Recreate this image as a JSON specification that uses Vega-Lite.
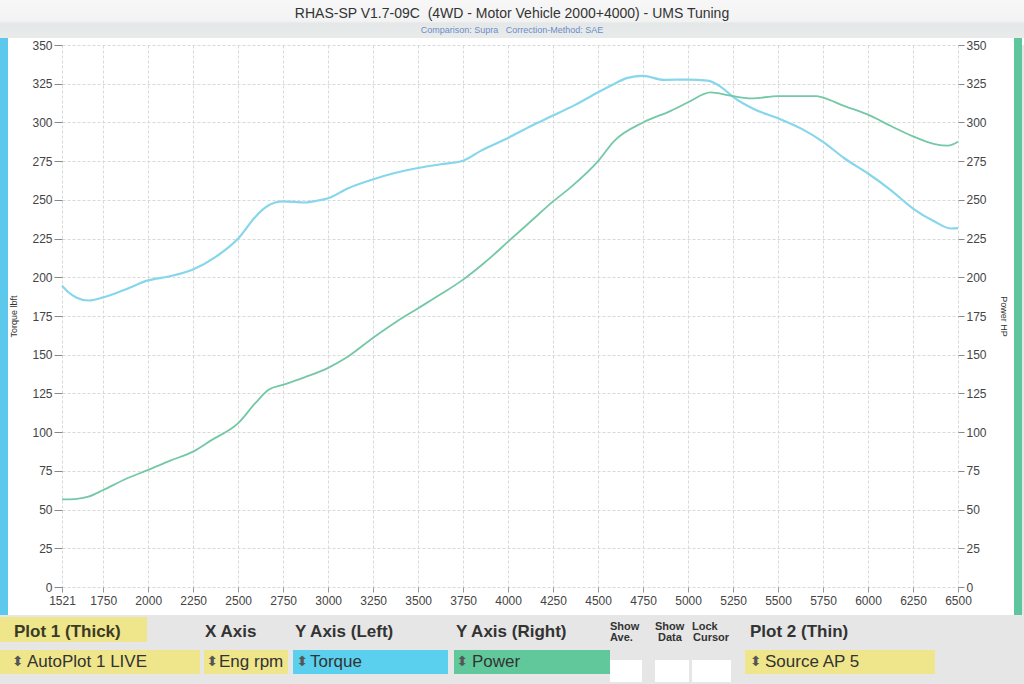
{
  "$schema": "https://vega.github.io/schema/vega-lite/v6.json",
  "background": "white",
  "padding": 0,
  "config": {"view": {"stroke": null}, "font": "Liberation Sans", "text": {"font": "Liberation Sans"}},
  "spacing": 0,
  "bounds": "full",
  "datasets": {
    "torque": [{"rpm":1521,"torque":194.5},{"rpm":1560,"torque":190},{"rpm":1600,"torque":187},{"rpm":1668,"torque":185},{"rpm":1750,"torque":187},{"rpm":1870,"torque":192},{"rpm":2000,"torque":198},{"rpm":2113,"torque":200.5},{"rpm":2249,"torque":205},{"rpm":2373,"torque":213},{"rpm":2500,"torque":225},{"rpm":2595,"torque":239},{"rpm":2650,"torque":245},{"rpm":2706,"torque":248.3},{"rpm":2750,"torque":249},{"rpm":2872,"torque":248.3},{"rpm":2944,"torque":249.6},{"rpm":3000,"torque":251},{"rpm":3111,"torque":257.5},{"rpm":3243,"torque":263},{"rpm":3375,"torque":267.5},{"rpm":3500,"torque":270.6},{"rpm":3625,"torque":273},{"rpm":3750,"torque":275.3},{"rpm":3850,"torque":281.8},{"rpm":4000,"torque":290},{"rpm":4125,"torque":297.5},{"rpm":4250,"torque":304.4},{"rpm":4375,"torque":311.5},{"rpm":4500,"torque":319.5},{"rpm":4600,"torque":325.5},{"rpm":4663,"torque":328.8},{"rpm":4750,"torque":330.1},{"rpm":4865,"torque":327.5},{"rpm":5000,"torque":327.7},{"rpm":5108,"torque":327},{"rpm":5182,"torque":323},{"rpm":5250,"torque":316.5},{"rpm":5368,"torque":308.5},{"rpm":5500,"torque":302.7},{"rpm":5629,"torque":296},{"rpm":5750,"torque":287.5},{"rpm":5870,"torque":276.7},{"rpm":6000,"torque":267},{"rpm":6130,"torque":256},{"rpm":6250,"torque":244.4},{"rpm":6370,"torque":236},{"rpm":6462,"torque":231.5},{"rpm":6500,"torque":231.7}],
    "power": [{"rpm":1521,"power":56.6},{"rpm":1594,"power":56.8},{"rpm":1668,"power":58.3},{"rpm":1750,"power":62.6},{"rpm":1872,"power":69.6},{"rpm":2000,"power":75.6},{"rpm":2122,"power":81.6},{"rpm":2249,"power":87.4},{"rpm":2354,"power":95},{"rpm":2500,"power":105.8},{"rpm":2595,"power":118.7},{"rpm":2669,"power":127.3},{"rpm":2748,"power":130.5},{"rpm":2872,"power":135.5},{"rpm":3000,"power":141.5},{"rpm":3100,"power":148},{"rpm":3250,"power":161},{"rpm":3375,"power":171},{"rpm":3500,"power":180},{"rpm":3625,"power":189},{"rpm":3750,"power":198.5},{"rpm":3875,"power":210},{"rpm":4000,"power":223},{"rpm":4125,"power":236},{"rpm":4250,"power":249},{"rpm":4352,"power":258.5},{"rpm":4500,"power":275},{"rpm":4589,"power":288},{"rpm":4750,"power":300},{"rpm":4904,"power":307.5},{"rpm":5000,"power":313},{"rpm":5126,"power":319.4},{"rpm":5218,"power":317.7},{"rpm":5352,"power":315.5},{"rpm":5500,"power":317},{"rpm":5713,"power":317},{"rpm":5750,"power":316},{"rpm":5870,"power":310.5},{"rpm":6000,"power":305},{"rpm":6130,"power":297.5},{"rpm":6250,"power":291},{"rpm":6370,"power":286},{"rpm":6444,"power":285},{"rpm":6500,"power":287.5}]
  },
  "vconcat": [
    {
      "width": 1024, "height": 38,
      "view": {"fill": {"gradient": "linear", "x1": 0, "y1": 0, "x2": 0, "y2": 1, "stops": [{"offset": 0, "color": "#f7f7f7"}, {"offset": 0.55, "color": "#f3f3f3"}, {"offset": 0.62, "color": "#e5e8e8"}, {"offset": 1, "color": "#e9ebeb"}]}},
      "data": {"values": [{"title": "RHAS-SP V1.7-09C \u00a0(4WD - Motor Vehicle 2000+4000) - UMS Tuning", "subtitle": "Comparison: Supra \u00a0 Correction-Method: SAE"}]},
      "layer": [
        {"mark": {"type": "text", "fontSize": 14, "color": "#333333", "dy": -5}, "encoding": {"text": {"field": "title"}}},
        {"mark": {"type": "text", "fontSize": 9, "color": "#6a8cc8", "dy": 11}, "encoding": {"text": {"field": "subtitle"}}}
      ]
    },
    {
      "spacing": 0,
      "bounds": "flush",
      "hconcat": [
        {"width": 8, "height": 570, "data": {"values": [{"t": ""}]}, "mark": {"type": "rect", "color": "#5cc9ec", "yOffset": -7}, "encoding": {}},
        {"width": 54, "height": 570, "data": {"values": [{"t": ""}]}, "mark": "text", "encoding": {"text": {"field": "t"}}},
        {
          "width": 896, "height": 542,
          "view": {"fill": "white"},
          "layer": [
            {
              "data": {"name": "torque"},
              "mark": {"type": "line", "color": "#86d6ec", "strokeWidth": 2.2, "interpolate": "monotone"},
              "encoding": {
                "x": {"field": "rpm", "type": "quantitative", "scale": {"domain": [1521, 6500], "nice": false, "zero": false},
                  "axis": {"values": [1521,1750,2000,2250,2500,2750,3000,3250,3500,3750,4000,4250,4500,4750,5000,5250,5500,5750,6000,6250,6500], "format": "d", "title": null, "domain": false, "tickSize": 5, "tickColor": "#999999", "labelPadding": 3, "labelFontSize": 12, "labelColor": "#444444", "labelFlush": false, "labelOverlap": false, "grid": true, "gridColor": "#d9d9d9", "gridDash": [3, 2]}},
                "y": {"field": "torque", "type": "quantitative", "scale": {"domain": [0, 350], "nice": false},
                  "axis": {"orient": "left", "values": [0,25,50,75,100,125,150,175,200,225,250,275,300,325,350], "title": "Torque lbft", "titleFontSize": 9, "titleFontWeight": "normal", "titleColor": "#333333", "titleX": -44, "titleY": 271, "domain": false, "tickSize": 8, "tickColor": "#888888", "labelPadding": 2, "labelFontSize": 12, "labelColor": "#444444", "labelOverlap": false, "grid": true, "gridColor": "#d9d9d9", "gridDash": [3, 2]}}
              }
            },
            {
              "data": {"name": "power"},
              "mark": {"type": "line", "color": "#74c8a6", "strokeWidth": 1.8, "interpolate": "monotone"},
              "encoding": {
                "x": {"field": "rpm", "type": "quantitative"},
                "y": {"field": "power", "type": "quantitative", "scale": {"domain": [0, 350], "nice": false},
                  "axis": {"orient": "right", "values": [0,25,50,75,100,125,150,175,200,225,250,275,300,325,350], "title": "Power HP", "titleFontSize": 9, "titleFontWeight": "normal", "titleColor": "#333333", "titleX": 40, "titleY": 271, "domain": false, "tickSize": 6, "tickColor": "#888888", "labelPadding": 2, "labelFontSize": 12, "labelColor": "#444444", "labelOverlap": false, "grid": false}}
              }
            }
          ],
          "resolve": {"scale": {"y": "independent"}}
        },
        {"width": 56, "height": 570, "data": {"values": [{"t": ""}]}, "mark": "text", "encoding": {"text": {"field": "t"}}},
        {"width": 8, "height": 570, "data": {"values": [{"t": ""}]}, "mark": {"type": "rect", "color": "#5fc59c", "yOffset": -7}, "encoding": {}},
        {"width": 2, "height": 570, "view": {"fill": "#e5e6e5"}, "data": {"values": [{"t": ""}]}, "mark": "text", "encoding": {"text": {"field": "t"}}}
      ]
    },
    {
      "spacing": 0,
      "bounds": "flush",
      "hconcat": [
        {
          "width": 204, "height": 69, "view": {"fill": "#e5e6e5"},
          "data": {"values": [{"heading": "Plot 1 (Thick)", "setting": "AutoPlot 1 LIVE", "arrows": "⬍"}]},
          "layer": [
            {"mark": {"type": "rect", "color": "#efe58b", "x2Offset": 12, "xOffset": -57, "yOffset": 2}, "encoding": {}},
            {"mark": {"type": "rect", "color": "#e5e6e5", "x2Offset": 12, "xOffset": -57, "yOffset": 27}, "encoding": {}},
            {"mark": {"type": "rect", "color": "#efe58b", "x2Offset": 26, "xOffset": -4, "yOffset": 35}, "encoding": {}},
            {"mark": {"type": "rect", "color": "#e5e6e5", "yOffset": 59}, "encoding": {}},
            {"mark": {"type": "text", "align": "left", "fontSize": 17, "fontWeight": "bold", "color": "#3a3a26", "dx": -88, "dy": -17.5}, "encoding": {"text": {"field": "heading"}}},
            {"mark": {"type": "text", "align": "left", "fontSize": 14, "font": "DejaVu Sans", "color": "#555555", "dx": -90, "dy": 12.5}, "encoding": {"text": {"field": "arrows"}}},
            {"mark": {"type": "text", "align": "left", "fontSize": 17, "color": "#333333", "dx": -75, "dy": 12.5}, "encoding": {"text": {"field": "setting"}}}
          ]
        },
        {
          "width": 89, "height": 69, "view": {"fill": "#e5e6e5"},
          "data": {"values": [{"heading": "X Axis", "setting": "Eng rpm", "arrows": "⬍"}]},
          "layer": [
            {"mark": {"type": "rect", "color": "#efe58b", "x2Offset": 14, "xOffset": -5, "yOffset": 35}, "encoding": {}},
            {"mark": {"type": "rect", "color": "#e5e6e5", "yOffset": 59}, "encoding": {}},
            {"mark": {"type": "text", "align": "left", "fontSize": 17, "fontWeight": "bold", "color": "#333333", "dx": -43.5, "dy": -17.5}, "encoding": {"text": {"field": "heading"}}},
            {"mark": {"type": "text", "align": "left", "fontSize": 14, "font": "DejaVu Sans", "color": "#555555", "dx": -42, "dy": 12.5}, "encoding": {"text": {"field": "arrows"}}},
            {"mark": {"type": "text", "align": "left", "fontSize": 17, "color": "#333333", "dx": -29.5, "dy": 12.5, "limit": 69, "ellipsis": ""}, "encoding": {"text": {"field": "setting"}}}
          ]
        },
        {
          "width": 161, "height": 69, "view": {"fill": "#e5e6e5"},
          "data": {"values": [{"heading": "Y Axis (Left)", "setting": "Torque", "arrows": "⬍"}]},
          "layer": [
            {"mark": {"type": "rect", "color": "#5bcfee", "x2Offset": 15, "xOffset": -6, "yOffset": 35}, "encoding": {}},
            {"mark": {"type": "rect", "color": "#e5e6e5", "yOffset": 59}, "encoding": {}},
            {"mark": {"type": "text", "align": "left", "fontSize": 17, "fontWeight": "bold", "color": "#333333", "dx": -78.5, "dy": -17.5}, "encoding": {"text": {"field": "heading"}}},
            {"mark": {"type": "text", "align": "left", "fontSize": 14, "font": "DejaVu Sans", "color": "#555555", "dx": -77, "dy": 12.5}, "encoding": {"text": {"field": "arrows"}}},
            {"mark": {"type": "text", "align": "left", "fontSize": 17, "color": "#333333", "dx": -63.5, "dy": 12.5}, "encoding": {"text": {"field": "setting"}}}
          ]
        },
        {
          "width": 156, "height": 69, "view": {"fill": "#e5e6e5"},
          "data": {"values": [{"heading": "Y Axis (Right)", "setting": "Power", "arrows": "⬍"}]},
          "layer": [
            {"mark": {"type": "rect", "color": "#60c89b", "x2Offset": 16, "xOffset": 0, "yOffset": 35}, "encoding": {}},
            {"mark": {"type": "rect", "color": "#e5e6e5", "yOffset": 59}, "encoding": {}},
            {"mark": {"type": "text", "align": "left", "fontSize": 17, "fontWeight": "bold", "color": "#333333", "dx": -76, "dy": -17.5}, "encoding": {"text": {"field": "heading"}}},
            {"mark": {"type": "text", "align": "left", "fontSize": 14, "font": "DejaVu Sans", "color": "#555555", "dx": -75.5, "dy": 12.5}, "encoding": {"text": {"field": "arrows"}}},
            {"mark": {"type": "text", "align": "left", "fontSize": 17, "color": "#333333", "dx": -60, "dy": 12.5}, "encoding": {"text": {"field": "setting"}}}
          ]
        },
        {
          "width": 45, "height": 69, "view": {"fill": "#e5e6e5"},
          "data": {"values": [{"line1": "Show", "line2": "Ave."}]},
          "layer": [
            {"mark": {"type": "rect", "color": "white", "x2Offset": 11, "xOffset": -13, "yOffset": 45}, "encoding": {}},
            {"mark": {"type": "rect", "color": "#e5e6e5", "yOffset": 67}, "encoding": {}},
            {"mark": {"type": "text", "align": "left", "fontSize": 11, "fontWeight": "bold", "color": "#333333", "dx": -22.5, "dy": -23}, "encoding": {"text": {"field": "line1"}}},
            {"mark": {"type": "text", "align": "left", "fontSize": 11, "fontWeight": "bold", "color": "#333333", "dx": -22.5, "dy": -11.5}, "encoding": {"text": {"field": "line2"}}}
          ]
        },
        {
          "width": 37, "height": 69, "view": {"fill": "#e5e6e5"},
          "data": {"values": [{"line1": "Show", "line2": "Data"}]},
          "layer": [
            {"mark": {"type": "rect", "color": "white", "x2Offset": 13, "xOffset": -3, "yOffset": 45}, "encoding": {}},
            {"mark": {"type": "rect", "color": "#e5e6e5", "yOffset": 67}, "encoding": {}},
            {"mark": {"type": "text", "align": "left", "fontSize": 11, "fontWeight": "bold", "color": "#333333", "dx": -18.5, "dy": -23}, "encoding": {"text": {"field": "line1"}}},
            {"mark": {"type": "text", "align": "left", "fontSize": 11, "fontWeight": "bold", "color": "#333333", "dx": -15.5, "dy": -11.5}, "encoding": {"text": {"field": "line2"}}}
          ]
        },
        {
          "width": 53, "height": 69, "view": {"fill": "#e5e6e5"},
          "data": {"values": [{"line1": "Lock", "line2": "Cursor"}]},
          "layer": [
            {"mark": {"type": "rect", "color": "white", "x2Offset": 18, "xOffset": -14, "yOffset": 45}, "encoding": {}},
            {"mark": {"type": "rect", "color": "#e5e6e5", "yOffset": 67}, "encoding": {}},
            {"mark": {"type": "text", "align": "left", "fontSize": 11, "fontWeight": "bold", "color": "#333333", "dx": -26.5, "dy": -23}, "encoding": {"text": {"field": "line1"}}},
            {"mark": {"type": "text", "align": "left", "fontSize": 11, "fontWeight": "bold", "color": "#333333", "dx": -25.5, "dy": -11.5}, "encoding": {"text": {"field": "line2"}}}
          ]
        },
        {
          "width": 279, "height": 69, "view": {"fill": "#e5e6e5"},
          "data": {"values": [{"heading": "Plot 2 (Thin)", "setting": "Source AP 5", "arrows": "⬍"}]},
          "layer": [
            {"mark": {"type": "rect", "color": "#efe58b", "x2Offset": 18, "xOffset": -89, "yOffset": 35}, "encoding": {}},
            {"mark": {"type": "rect", "color": "#e5e6e5", "yOffset": 59}, "encoding": {}},
            {"mark": {"type": "text", "align": "left", "fontSize": 17, "fontWeight": "bold", "color": "#333333", "dx": -134.5, "dy": -17.5}, "encoding": {"text": {"field": "heading"}}},
            {"mark": {"type": "text", "align": "left", "fontSize": 14, "font": "DejaVu Sans", "color": "#555555", "dx": -134.5, "dy": 12.5}, "encoding": {"text": {"field": "arrows"}}},
            {"mark": {"type": "text", "align": "left", "fontSize": 17, "color": "#333333", "dx": -119.5, "dy": 12.5}, "encoding": {"text": {"field": "setting"}}}
          ]
        }
      ]
    }
  ]
}
